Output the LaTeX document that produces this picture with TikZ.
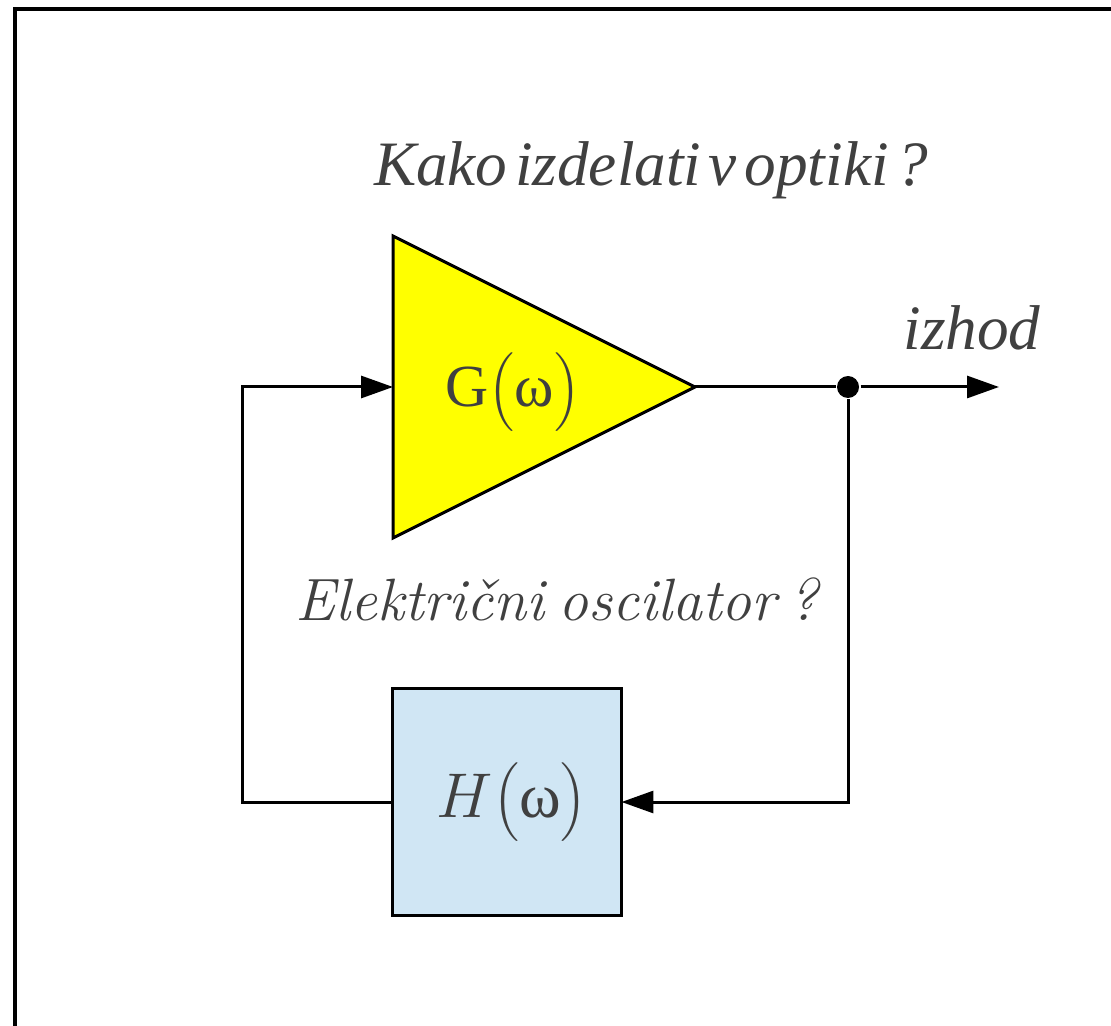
\RequirePackage{fix-cm}
\documentclass[tikz,border=0pt]{standalone}
\usepackage{amsmath}
\usepackage{fontspec}
\newfontfamily\timesfont[Extension=.ttf, UprightFont=*-Regular, ItalicFont=*-Italic]{LiberationSerif}
\usetikzlibrary{shapes.geometric, arrows.meta, positioning}
\definecolor{ampyellow}{RGB}{255,255,0}
\definecolor{filterblue}{RGB}{208,230,244}
\definecolor{textgray}{RGB}{64,64,64}

\begin{document}
\begin{tikzpicture}[x=0.02cm, y=-0.02cm, line width=0.06cm, >={Triangle[length=0.64cm, width=0.44cm]}]
\useasboundingbox (0,0) rectangle (1111,1026);
\draw [line width=0.07cm] (15,1026) -- (15,9) -- (1111,9);

\node (title) [anchor=base, text=textgray, font=\timesfont\itshape\fontsize{36}{43}\selectfont] at (651,186) {Kako\hspace{0.12em}izdelati\hspace{0.12em}v\hspace{0.12em}optiki\hspace{0.12em}?};
\node (amp) [isosceles triangle, isosceles triangle stretches, draw, fill=ampyellow, anchor=apex, inner sep=0, outer sep=0, minimum width=6.04cm, minimum height=6.04cm] at (695,387) {};
\node (gain) [anchor=base, text=textgray, font=\fontsize{34}{41}\selectfont] at (513,407) {{\timesfont G}$\bigl(\mbox{\timesfont ω}\bigr)$};
\node (branch) [circle, fill, inner sep=0, minimum size=0.44cm] at (848,387) {};
\coordinate (outend) at (999,387);
\node (outlabel) [anchor=base, text=textgray, font=\timesfont\itshape\fontsize{36}{43}\selectfont] at (972,350) {izhod};
\node (question) [anchor=base, text=textgray, font=\itshape\fontsize{34}{41}\selectfont] at (557,620) {Električni\hspace{0.25em}oscilator\hspace{0.2em}?};
\node (filter) [rectangle, draw, fill=filterblue, inner sep=0, outer sep=0, minimum width=4.58cm, minimum height=4.54cm, text=textgray, font=\fontsize{36}{43}\selectfont] at (507,802) {\hspace{0.2cm}$H\bigl(\mbox{\timesfont ω}\bigr)$};
\coordinate (loopcorner) at (242,802);

\draw (amp.apex) -- (branch);
\draw [->] (branch) -- (outend);
\draw [->] (branch) |- (filter.east);
\draw [->] (filter.west) -- (loopcorner) |- (amp.west);
\end{tikzpicture}
\end{document}
